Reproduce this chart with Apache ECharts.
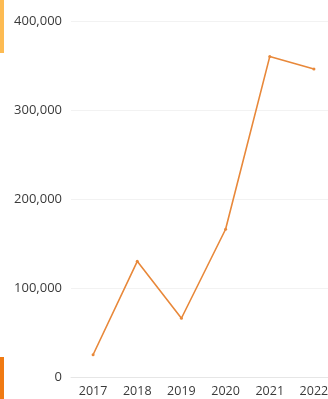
<!DOCTYPE html>
<html><head><meta charset="utf-8">
<script src="https://cdn.jsdelivr.net/npm/echarts@6/dist/echarts.min.js"></script>
<style>html,body{margin:0;padding:0;background:#fff}#c{width:328px;height:399px}</style>
</head><body><div id="c"></div>
<script>
const categories = ['2017','2018','2019','2020','2021','2022'];
const values = [25000, 130000, 66000, 166000, 360000, 346000];
const yTicks = [0, 100000, 200000, 300000, 400000];

const chart = echarts.init(document.getElementById('c'), null, {renderer:'canvas'});
chart.setOption({
  animation:false,
  backgroundColor:'#fff',
  grid:{left:71, width:265, top:21, bottom:22, containLabel:false, outerBoundsMode:'none'},
  xAxis:{type:'category', data:categories, boundaryGap:true,
    axisLine:{show:true, lineStyle:{color:'#e6e6e6', width:1}},
    axisTick:{show:false},
    axisLabel:{color:'#3a3a3a', fontSize:12.5, fontFamily:'Open Sans', margin:8}},
  yAxis:{type:'value', min:0, max:400000, interval:100000,
    axisLine:{show:false}, axisTick:{show:false},
    splitLine:{lineStyle:{color:'#f2f2f2', width:1}},
    axisLabel:{color:'#3a3a3a', fontSize:13, fontFamily:'Open Sans', margin:9,
      formatter:v=>v.toLocaleString('en-US')}},
  series:[{type:'line', data:values, symbol:'circle', symbolSize:3,
    lineStyle:{color:'#E8883A', width:1.6}, itemStyle:{color:'#E8883A'}}],
  graphic:[
    {type:'rect', shape:{x:0,y:0,width:4,height:53}, style:{fill:'#FDBB52'}},
    {type:'rect', shape:{x:0,y:357,width:4,height:42}, style:{fill:'#F07A12'}}
  ]
});
</script></body></html>
